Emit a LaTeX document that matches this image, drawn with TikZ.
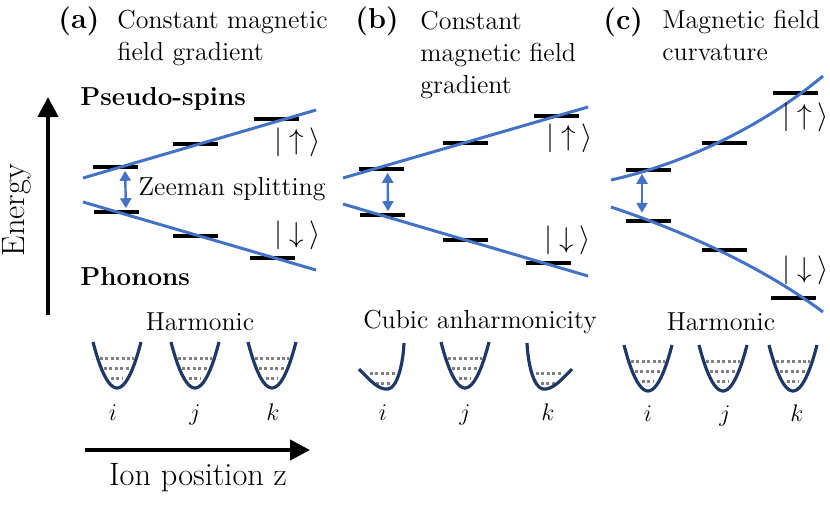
\documentclass[tikz,border=0pt]{standalone}
\usepackage{amsmath,amssymb}
\usepackage{xcolor}
\usepackage{tikz}
\usetikzlibrary{positioning,arrows.meta}

\definecolor{fieldblue}{HTML}{4472C4}
\definecolor{wellblue}{HTML}{1F3864}

\begin{document}
\begin{tikzpicture}[
      x=0.5pt, y=-0.5pt,
      lbl/.style={inner sep=0,text=black,font=\fontsize{13}{16}\selectfont},
      side/.style={inner sep=0,font=\fontsize{13}{16}\selectfont\bfseries},
      big/.style={inner sep=0,font=\fontsize{16.2}{20}\selectfont},
      tag/.style={inner sep=0,font=\fontsize{14.4}{17}\selectfont\bfseries},
      head/.style={lbl,align=left,anchor=north west},
      ket/.style={inner sep=0,font=\fontsize{13.5}{16}\selectfont},
      level/.style={fill=black,minimum width=22.5pt,minimum height=1.8pt,inner sep=0},
      field/.style={fieldblue,line width=1.5pt},
      dbl/.style={fieldblue,line width=1.2pt,{Triangle[length=5pt,width=5.5pt]}-{Triangle[length=5pt,width=5.5pt]},shorten <=0.8pt,shorten >=0.8pt},
      axis/.style={line width=2.2pt,-{Triangle[length=10pt,width=10pt]}},
      well/.style={wellblue,line width=1.6pt},
      occ/.style={gray,line width=1.5pt,dash pattern=on 1.5pt off 1.2pt},
    ]
    \useasboundingbox (0,0) rectangle (830,511);

    % Titles
    \node[tag,anchor=base west] (pa) at (58,28) {(a)};
    \node[head] (ta) at (117,10) {Constant magnetic\\field gradient};
    \node[tag,anchor=base west] (pb) at (355,28) {(b)};
    \node[head] (tb) at (420,11) {Constant\\magnetic field\\gradient};
    \node[tag,anchor=base west] (pc) at (603,29) {(c)};
    \node[head] (tc) at (662,10) {Magnetic field\\curvature};

    % Energy axis
    \node[big,rotate=90] (en) at (17,210) {Energy};
    \coordinate (e0) at (48,315);
    \coordinate (e1) at (48,97);
    \draw[axis] (e0) -- (e1);
    \node[side,anchor=west] (ps) at (80,99) {Pseudo-spins};
    \node[side,anchor=west] (ph) at (80,277) {Phonons};

    % Levels
    \foreach \n/\x/\y in {ua1/115/167,ua2/195/144,ua3/276/119,la1/116/212,la2/195/236,la3/272/258,
                          ub1/381/169,ub2/465/143,ub3/556/116,lb1/382/215,lb2/465/240,lb3/548/263,
                          uc1/648/170,uc2/724/143,uc3/795/93,lc1/648/221,lc2/724/250,lc3/793/298}
      \node[level] (\n) at (\x,\y) {};

    % Field lines
    \draw[field] (83,178) -- (316,110);
    \draw[field] (83,202) -- (316,270);
    \draw[field] (343,178) -- (588,107);
    \draw[field] (343,204) -- (588,276);
    \draw[field] (611,180) .. controls (683,164) and (762,127) .. (823,76);
    \draw[field] (611,207) .. controls (680,230) and (760,265) .. (823,312);

    % Splittings
    \draw[dbl] ([xshift=5pt]ua1.south) -- node[lbl,right=6pt] (zs) {Zeeman splitting} ([xshift=5pt]la1.north);
    \draw[dbl] ([xshift=3.3pt]ub1.south) -- ([xshift=3pt]lb1.north);
    \draw[dbl,shorten >=3pt] ([xshift=-3pt]uc1.south) -- ([xshift=-3pt]lc1.north);

    % Kets
    \node[ket] (upa) at (298,142) {$|\:{\uparrow}\:\rangle$};
    \node[ket] (dna) at (298,235) {$|\:{\downarrow}\:\rangle$};
    \node[ket] (upb) at (570,138) {$|\:{\uparrow}\:\rangle$};
    \node[ket] (dnb) at (568,240) {$|\:{\downarrow}\:\rangle$};
    \node[ket] (upc) at (806,117) {$|\:{\uparrow}\:\rangle$};
    \node[ket] (dnc) at (806,270) {$|\:{\downarrow}\:\rangle$};

    % Wells
    \node[lbl] (ha) at (200,322) {Harmonic};
    \node[lbl] (cb) at (480,322) {Cubic anharmonicity};
    \node[lbl] (hc) at (721,322) {Harmonic};
    \foreach \x/\y in {117/342,195/342,272/342,465/342,648/345,723/345,793/345} {
      \draw[occ] (\x-17,\y+16) -- (\x+17,\y+16);
      \draw[occ] (\x-13,\y+26) -- (\x+13,\y+26);
      \draw[occ] (\x-6,\y+36) -- (\x+6,\y+36);
      \draw[well] (\x-24,\y) parabola bend (\x,\y+46) (\x+24,\y);
    }
    \draw[occ] (370,373) -- (395,373);
    \draw[occ] (376,383) -- (390,383);
    \draw[well] (359,369) .. controls (370,380) and (378,390) .. (388,389) .. controls (397,388) and (403,365) .. (404,343);
    \draw[occ] (536,373) -- (561,373);
    \draw[occ] (541,383) -- (555,383);
    \draw[well] (527,343) .. controls (528,365) and (534,388) .. (543,389) .. controls (553,390) and (561,380) .. (572,369);
    \foreach \n/\m/\x/\y in {ia/i/113/420,ja/j/195/420,ka/k/273/420,
                             ib/i/383/420,jb/j/465/420,kb/k/548/420,
                             ic/i/648/421,jc/j/725/421,kc/k/797/421}
      \node[lbl,anchor=base] (\n) at (\x,\y) {$\m$};

    % Position axis
    \coordinate (z0) at (85,450);
    \coordinate (z1) at (310,450);
    \draw[axis] (z0) -- (z1);
    \node[big] (ion) at (198,478) {Ion position z};
\end{tikzpicture}
\end{document}
